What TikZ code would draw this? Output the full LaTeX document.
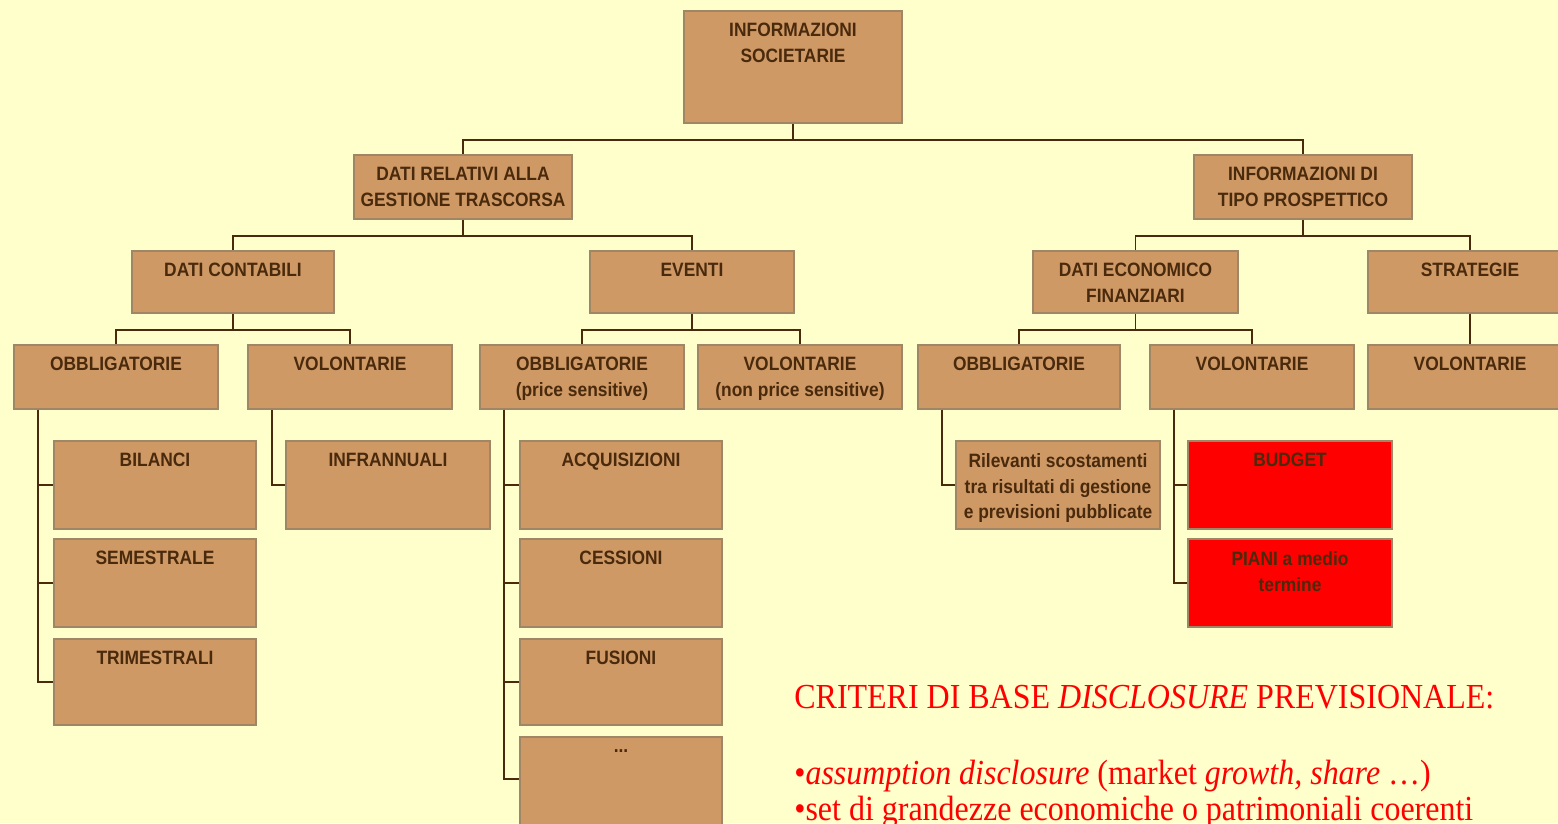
\documentclass[tikz,border=0pt]{standalone}
\usepackage{fontspec}
\setmainfont{Liberation Serif}
\newfontfamily\boxfont[FakeStretch=0.9]{Liberation Sans}
\newfontfamily\notefont[FakeStretch=0.91]{Liberation Serif}
\usetikzlibrary{fit}

\definecolor{sfondo}{HTML}{FFFFCC}
\definecolor{cuoio}{HTML}{CF9966}
\definecolor{bordo}{HTML}{9E8666}
\definecolor{marrone}{HTML}{4A2A0C}
\definecolor{rosso}{HTML}{FF0000}

\tikzset{
  box/.style={rectangle, draw=bordo, fill=cuoio, line width=1.1pt, inner sep=0pt},
  redbox/.style={box, fill=rosso},
  txt/.style={anchor=north, align=center, inner sep=0pt, yshift=-0.26cm, text=marrone,
    font=\boxfont\bfseries\fontsize{11}{14.6}\selectfont},
  link/.style={draw=marrone, line width=1.1pt},
  note/.style={anchor=base west, inner sep=0pt, text=rosso,
    font=\notefont\fontsize{20}{24}\selectfont},
}

\begin{document}
\begin{tikzpicture}[x=0.02cm, y=-0.02cm]
% Set the page and the background
\useasboundingbox[fill=sfondo] (0,0) rectangle (1558,823);
\clip (0,0) rectangle (1558,823);

% Draw the boxes of the tree
\node[box, fit={(684,11) (902,123)}] (soc) {};
\node[box, fit={(354,155) (572,219)}] (gest) {};
\node[box, fit={(1194,155) (1412,219)}] (prosp) {};
\node[box, fit={(132,251) (334,313)}] (cont) {};
\node[box, fit={(590,251) (794,313)}] (eventi) {};
\node[box, fit={(1033,251) (1238,313)}] (econ) {};
\node[box, fit={(1368,251) (1572,313)}] (strat) {};
\node[box, fit={(14,345) (218,409)}] (obbA) {};
\node[box, fit={(248,345) (452,409)}] (volA) {};
\node[box, fit={(480,345) (684,409)}] (obbB) {};
\node[box, fit={(698,345) (902,409)}] (volB) {};
\node[box, fit={(918,345) (1120,409)}] (obbC) {};
\node[box, fit={(1150,345) (1354,409)}] (volC) {};
\node[box, fit={(1368,345) (1572,409)}] (volD) {};
\node[box, fit={(54,441) (256,529)}] (bil) {};
\node[box, fit={(54,539) (256,627)}] (sem) {};
\node[box, fit={(54,639) (256,725)}] (tri) {};
\node[box, fit={(286,441) (490,529)}] (infr) {};
\node[box, fit={(520,441) (722,529)}] (acq) {};
\node[box, fit={(520,539) (722,627)}] (ces) {};
\node[box, fit={(520,639) (722,725)}] (fus) {};
\node[box, fit={(520,737) (722,840)}] (altri) {};
\node[box, fit={(956,441) (1160,529)}] (ril) {};
\node[redbox, fit={(1188,441) (1392,529)}] (bud) {};
\node[redbox, fit={(1188,539) (1392,627)}] (piani) {};

% Insert the texts
\node[txt] at (soc.north) {INFORMAZIONI\\SOCIETARIE};
\node[txt] at (gest.north) {DATI RELATIVI ALLA\\GESTIONE TRASCORSA};
\node[txt] at (prosp.north) {INFORMAZIONI DI\\TIPO PROSPETTICO};
\node[txt] at (cont.north) {DATI CONTABILI};
\node[txt] at (eventi.north) {EVENTI};
\node[txt] at (econ.north) {DATI ECONOMICO\\FINANZIARI};
\node[txt] at (strat.north) {STRATEGIE};
\node[txt] at (obbA.north) {OBBLIGATORIE};
\node[txt] at (volA.north) {VOLONTARIE};
\node[txt] at (obbB.north) {OBBLIGATORIE\\(price sensitive)};
\node[txt] at (volB.north) {VOLONTARIE\\(non price sensitive)};
\node[txt] at (obbC.north) {OBBLIGATORIE};
\node[txt] at (volC.north) {VOLONTARIE};
\node[txt] at (volD.north) {VOLONTARIE};
\node[txt] at (bil.north) {BILANCI};
\node[txt] at (sem.north) {SEMESTRALE};
\node[txt] at (tri.north) {TRIMESTRALI};
\node[txt] at (infr.north) {INFRANNUALI};
\node[txt] at (acq.north) {ACQUISIZIONI};
\node[txt] at (ces.north) {CESSIONI};
\node[txt] at (fus.north) {FUSIONI};
\node[txt] at (altri.north) {...};
\node[txt] at (ril.north) {Rilevanti scostamenti\\tra risultati di gestione\\e previsioni pubblicate};
\node[txt] at (bud.north) {BUDGET};
\node[txt] at (piani.north) {PIANI a medio\\termine};

% Draw the connectors
\foreach \p/\c in {soc/gest, soc/prosp, gest/cont, gest/eventi, prosp/econ, prosp/strat,
                   cont/obbA, cont/volA, eventi/obbB, eventi/volB, econ/obbC, econ/volC}
  \draw[link] (\p.south) -- ++(0,16) -| (\c.north);
\draw[link] (strat.south) -- (volD.north);
\foreach \p/\c in {obbA/bil, obbA/sem, obbA/tri, volA/infr, obbB/acq, obbB/ces, obbB/fus,
                   obbC/ril, volC/bud, volC/piani}
  \draw[link] ([xshift=0.5cm]\p.south west) |- (\c.west);
\draw[link] ([xshift=0.5cm]obbB.south west) |- ([yshift=0.19cm]altri.west);

% Criteri di base
\node[note] (crit) at (794,708) {CRITERI DI BASE \textit{DISCLOSURE} PREVISIONALE:};
\node[note] (ass) at (794,784) {•\textit{assumption disclosure} (market \textit{growth, share} …)};
\node[note] (set) at (794,820) {•set di grandezze economiche o patrimoniali coerenti};
\end{tikzpicture}
\end{document}
